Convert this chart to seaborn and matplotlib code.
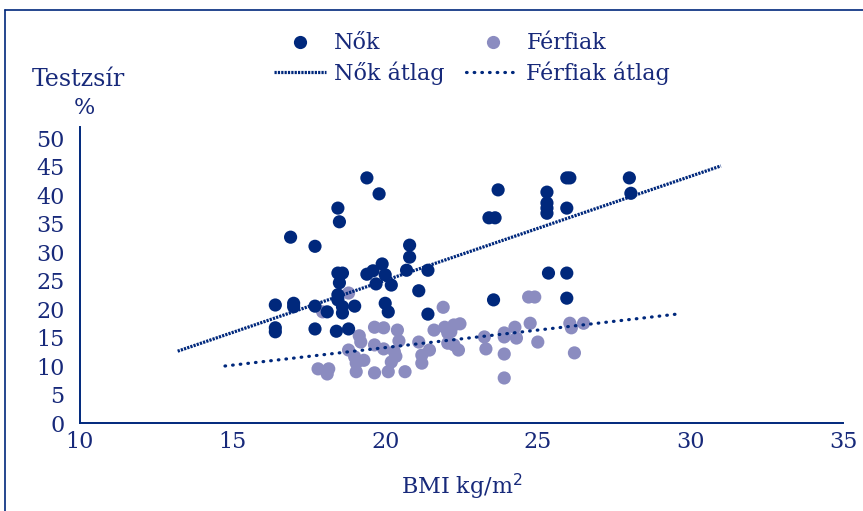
import numpy as np
import pandas as pd
import matplotlib
matplotlib.use("Agg")
import matplotlib.pyplot as plt
from matplotlib.lines import Line2D
import seaborn as sns

# Nők (women): BMI and body fat %
noi_bmi = [16.4, 16.4, 16.4, 17.0, 17.0, 16.9, 17.7, 17.7, 17.7, 18.1,
           18.45, 18.5, 19.4, 19.8, 18.45, 18.6, 18.5, 18.45, 18.45, 18.6,
           18.6, 18.4, 18.8, 19.0, 19.4, 19.6, 19.9, 20.0, 19.7, 20.2,
           20.0, 20.1, 20.7, 20.8, 20.8, 21.4, 21.1, 21.4, 23.55, 23.7,
           23.4, 23.6, 25.3, 25.3, 25.3, 25.3, 25.95, 26.05, 25.95, 28.0,
           28.05, 25.35, 25.95, 25.95]
noi_fat = [20.7, 16.7, 16.0, 21.0, 20.4, 32.6, 31.0, 20.5, 16.5, 19.5,
           37.7, 35.3, 43.0, 40.2, 26.3, 26.3, 24.6, 22.5, 21.6, 20.4,
           19.3, 16.1, 16.5, 20.5, 26.1, 26.7, 27.9, 26.0, 24.4, 24.2,
           21.0, 19.5, 26.8, 31.2, 29.1, 26.8, 23.2, 19.1, 21.6, 40.9,
           36.0, 36.0, 40.5, 38.6, 37.7, 36.8, 43.0, 43.0, 37.7, 43.0,
           40.3, 26.3, 26.3, 21.9]

# Férfiak (men): BMI and body fat %
ffi_bmi = [17.8, 18.15, 18.1, 17.95, 18.8, 19.15, 19.2, 18.8, 19.0, 19.3,
           19.05, 19.05, 19.65, 19.95, 20.4, 20.45, 19.65, 19.95, 20.3, 20.35,
           20.2, 20.1, 19.65, 20.65, 21.1, 21.45, 21.2, 21.2, 21.6, 21.95,
           22.05, 22.05, 21.9, 22.25, 22.45, 22.15, 22.25, 22.4, 23.25, 23.3,
           23.9, 23.9, 24.25, 24.3, 23.9, 23.9, 24.7, 24.9, 24.75, 25.0,
           26.05, 26.1, 26.5, 26.2]
ffi_fat = [9.5, 9.5, 8.6, 19.5, 22.8, 15.3, 14.2, 12.8, 11.6, 11.0,
           10.5, 9.0, 16.8, 16.7, 16.3, 14.4, 13.7, 13.0, 12.5, 11.7,
           10.7, 9.0, 8.8, 9.0, 14.2, 12.8, 11.9, 10.5, 16.3, 16.8,
           15.8, 14.0, 20.3, 17.2, 17.4, 16.0, 13.7, 12.8, 15.1, 13.0,
           15.8, 15.1, 16.8, 14.9, 12.1, 7.9, 22.1, 22.1, 17.5, 14.2,
           17.5, 16.7, 17.5, 12.3]

# Trend lines (átlag): end points in data units
noi_trend_bmi = [13.2, 31.0]
noi_trend_fat = [12.6, 45.1]
ffi_trend_bmi = [14.75, 29.55]
ffi_trend_fat = [10.0, 19.1]

x_ticks = [10, 15, 20, 25, 30, 35]
y_ticks = [0, 5, 10, 15, 20, 25, 30, 35, 40, 45, 50]

DARK = "#00287c"
LIGHT = "#8b8cc0"
TEXT = "#17297a"
FS = 16

sns.set_theme(style="white")
plt.rcParams["font.family"] = ["DejaVu Serif", "DejaVu Sans"]

df = pd.concat([
    pd.DataFrame({"BMI": ffi_bmi, "fat": ffi_fat, "Nem": "Férfiak"}),
    pd.DataFrame({"BMI": noi_bmi, "fat": noi_fat, "Nem": "Nők"}),
], ignore_index=True)

fig = plt.figure(figsize=(8.63, 5.11), dpi=100)
ax = fig.add_axes([80 / 863, 88 / 511, 763 / 863, 296.4 / 511])

sns.scatterplot(data=df, x="BMI", y="fat", hue="Nem",
                palette={"Nők": DARK, "Férfiak": LIGHT},
                s=90, linewidth=0, legend=False, ax=ax, zorder=2)

ax.plot(noi_trend_bmi, noi_trend_fat, color=DARK, lw=2.3,
        linestyle=(0, (0.7, 0.35)), zorder=3)
ax.plot(ffi_trend_bmi, ffi_trend_fat, color=DARK, lw=2.3,
        linestyle=(0, (0.2, 2.2)), dash_capstyle="round", zorder=3)

ax.set_xlim(10, 35)
ax.set_ylim(0, 52)
ax.set_xticks(x_ticks)
ax.set_yticks(y_ticks)
ax.tick_params(length=0, labelsize=FS, labelcolor=TEXT)
ax.tick_params(axis="y", pad=11)
ax.tick_params(axis="x", pad=6)
for side in ["top", "right"]:
    ax.spines[side].set_visible(False)
for side in ["left", "bottom"]:
    ax.spines[side].set_color(DARK)
    ax.spines[side].set_linewidth(1.4)

ax.set_xlabel("BMI kg/m$^2$", fontsize=FS, color=TEXT, labelpad=13)
ax.set_ylabel("")
fig.text(78 / 863, 1 - 80 / 511, "Testzsír", fontsize=FS + 1, color=TEXT,
         ha="center", va="center")
fig.text(84 / 863, 1 - 108 / 511, "%", fontsize=FS, color=TEXT,
         ha="center", va="center")

handles = [
    Line2D([], [], marker="o", color="none", markerfacecolor=DARK,
           markeredgewidth=0, markersize=9.5),
    Line2D([], [], color=DARK, lw=2.3, linestyle=(0, (0.7, 0.35))),
    Line2D([], [], marker="o", color="none", markerfacecolor=LIGHT,
           markeredgewidth=0, markersize=9.5),
    Line2D([], [], color=DARK, lw=2.3, linestyle=(0, (0.2, 2.2)),
           dash_capstyle="round"),
]
labels = ["Nők", "Nők átlag", "Férfiak", "Férfiak átlag"]
leg = fig.legend(handles, labels, ncol=2, loc="center",
                 bbox_to_anchor=(472 / 863, 1 - 58.5 / 511), frameon=False,
                 fontsize=FS, handlelength=2.35, handletextpad=0.35,
                 columnspacing=1.0, labelspacing=0.3)
for t in leg.get_texts():
    t.set_color(TEXT)

# outer frame (top and left edges)
fig.add_artist(Line2D([5 / 863, 5 / 863], [0, 1 - 10 / 511],
                      transform=fig.transFigure, color=DARK, lw=1.2))
fig.add_artist(Line2D([5 / 863, 1], [1 - 10 / 511, 1 - 10 / 511],
                      transform=fig.transFigure, color=DARK, lw=1.2))

fig.savefig("out.png", dpi=100)
